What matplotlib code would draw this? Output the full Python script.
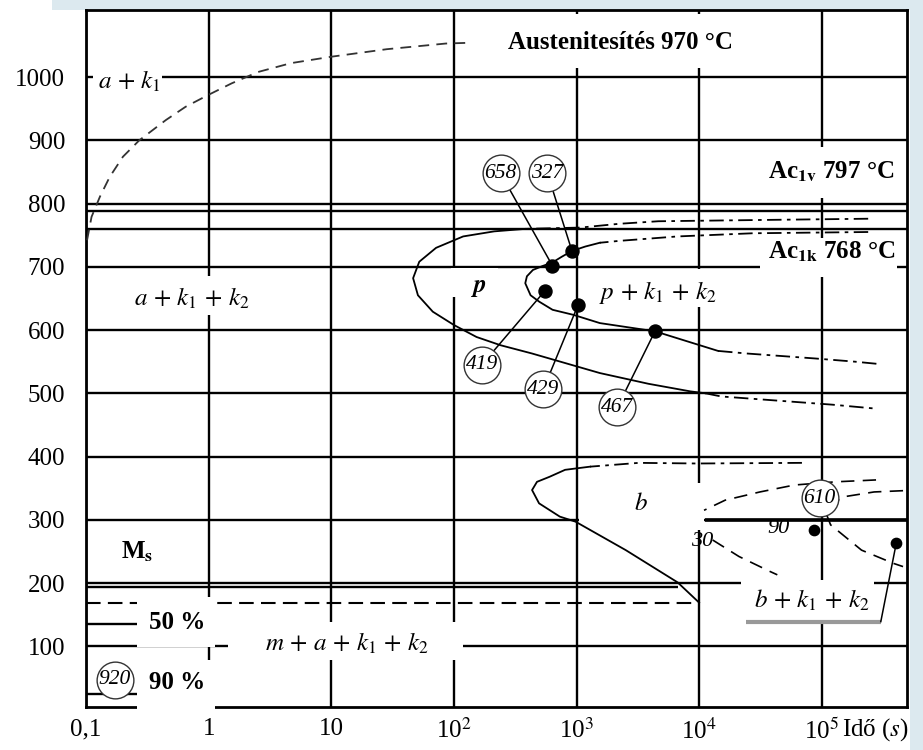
import matplotlib.pyplot as plt
from matplotlib.patches import Rectangle
from matplotlib.ticker import NullLocator

plt.rcParams['font.family'] = ['Liberation Serif', 'DejaVu Serif']
plt.rcParams['mathtext.fontset'] = 'stix'

# --- data: time in s, temperature in °C ---
aust_t = [0.102, 0.111, 0.130, 0.156, 0.200, 0.272, 0.448, 0.649, 1.0, 1.54,
          2.53, 4.70, 9.9, 28.3, 86.1, 126]
aust_T = [742, 779, 811, 842, 874, 900, 932, 953, 972, 990,
          1008, 1022, 1032, 1044, 1053, 1054]

# pearlite start (outer C)
ps_up_t = [239000, 31300, 4645, 2234, 1076, 385]
ps_up_T = [776, 774, 772, 768, 762, 760]
ps_mid_t = [385, 213, 119, 71.6, 52.2, 46.5, 50.9, 67.3, 100, 153, 240, 432,
            1549, 3864, 8492, 11250]
ps_mid_T = [760, 756, 748, 730, 708, 682, 655, 629, 608, 589, 576, 563,
            532, 515, 503, 500]
ps_low_t = [11250, 15100, 46500, 122000, 267000]
ps_low_T = [500, 495, 488, 482, 476]

# pearlite end (inner C)
pe_up_t = [239000, 27300, 6680, 2234, 1549]
pe_up_T = [755, 753, 748, 741, 738]
pe_mid_t = [1549, 1178, 918, 760, 638, 525, 441, 394, 382, 422, 495, 638,
            944, 1549, 4365, 14260]
pe_mid_T = [738, 732, 725, 716, 707, 701, 695, 685, 674, 655, 645, 632,
            624, 611, 598, 567]
pe_low_t = [14260, 24100, 88900, 186000, 303000]
pe_low_T = [567, 563, 555, 550, 546]

# bainite start
bs_up_t = [68900, 9640, 3220, 1291]
bs_up_T = [390, 389, 390, 384]
bs_mid_t = [1291, 807, 603, 476, 434, 495, 731, 982, 2523, 6680, 10000]
bs_mid_T = [384, 379, 368, 360, 347, 326, 305, 297, 252, 201, 169]

# bainite 30 % and 90 %
b30_up_t = [277000, 129000, 60000, 31300, 16300, 10960]
b30_up_T = [363, 360, 355, 344, 331, 315]
b30_low_t = [12900, 21100, 38100, 43400]
b30_low_T = [268, 242, 218, 213]
b90_t = [460000, 267000, 147000, 106000, 118000, 211000, 385000, 460000]
b90_T = [346, 344, 336, 315, 292, 252, 231, 226]

# critical temperatures
ac1v_T = 788
ac1k_T = 759
ms_T = 193
ms_end_t = 6680
m50_dash_T = 169
m50_T = 136
m90_T = 25
short_end_t = 0.262

# hardness values
hv_labels = ['658', '327', '419', '429', '467']
hv_circle_t = [240, 579, 169, 536, 2155]
hv_circle_T = [848, 848, 545, 506, 478]
hv_dot_t = [635, 918, 552, 1031, 4365]
hv_dot_T = [702, 725, 662, 640, 598]
hv610_circle = (96200, 334)
hv610_dot = (87100, 284)
hv920_circle = (0.171, 47)
bk_dot = (405000, 263)
bk_line_t = [24200, 303000]
bk_line_T = 139

xticks = [0.1, 1, 10, 1e2, 1e3, 1e4, 1e5]
xlabels = ['0,1', '1', '10', '10$^2$', '10$^3$', '10$^4$', '10$^5$']
yticks = [100, 200, 300, 400, 500, 600, 700, 800, 900, 1000]

# white boxes behind labels (t0, t1, T0, T1)
masks = [(0.114, 0.418, 976, 1017), (227, 21100, 1014, 1100),
         (31300, 413000, 809, 889), (31300, 413000, 684, 745),
         (94.6, 227, 652, 698), (1416, 15700, 636, 696),
         (0.226, 2.44, 624, 685), (1038, 11040, 284, 358),
         (21980, 267000, 141, 205), (0.262, 1.12, 99, 178),
         (0.262, 1.12, -5, 78), (1.45, 119, 78, 138)]

fig = plt.figure(figsize=(9.23, 7.5), dpi=100)
fig.add_artist(Rectangle((52 / 923, 740 / 750), 1, 0.02, transform=fig.transFigure,
                         color='#dce9ef', lw=0, zorder=0))
fig.add_artist(Rectangle((910 / 923, 0), 0.02, 1, transform=fig.transFigure,
                         color='#dce9ef', lw=0, zorder=0))
ax = fig.add_axes([86 / 923, 43 / 750, 821 / 923, 697 / 750])
ax.set_xscale('log')
ax.set_xlim(0.1, 10 ** 5.695)
ax.set_ylim(4, 1106)
ax.set_xticks(xticks)
ax.set_xticklabels(xlabels)
ax.xaxis.set_minor_locator(NullLocator())
ax.set_yticks(yticks)
ax.tick_params(axis='both', length=0, labelsize=18)
ax.tick_params(axis='x', pad=8)
ax.tick_params(axis='y', pad=15)
ax.grid(True, color='black', lw=1.7)
ax.set_axisbelow(True)
for s in ax.spines.values():
    s.set_linewidth(2)

xmin, xmax = ax.get_xlim()
lk = dict(color='black', lw=1.7, zorder=1)
ax.hlines([ac1v_T, ac1k_T], xmin, xmax, **lk)
ax.hlines(ms_T, xmin, ms_end_t, **lk)
ax.hlines(300, 11250, xmax, color='black', lw=2.6, zorder=1)
ax.hlines([m50_T, m90_T], xmin, short_end_t, **lk)
ax.hlines(m50_dash_T, xmin, 1e4, color='black', lw=1.5, ls=(0, (7, 3.5)), zorder=1)

for t0, t1, T0, T1 in masks:
    ax.fill([t0, t1, t1, t0], [T0, T0, T1, T1], color='white', lw=0,
            zorder=2.7, clip_on=False)

dash = (0, (6, 4))
dashdot = (0, (8, 3, 2, 3))
ax.plot(aust_t, aust_T, color='#333333', lw=1.3, ls=dash, zorder=3)
ax.plot(ps_up_t, ps_up_T, color='black', lw=1.3, ls=dashdot, zorder=3)
ax.plot(ps_mid_t, ps_mid_T, color='black', lw=1.3, zorder=3)
ax.plot(ps_low_t, ps_low_T, color='black', lw=1.3, ls=dashdot, zorder=3)
ax.plot(pe_up_t, pe_up_T, color='black', lw=1.3, ls=dashdot, zorder=3)
ax.plot(pe_mid_t, pe_mid_T, color='black', lw=1.3, zorder=3)
ax.plot(pe_low_t, pe_low_T, color='black', lw=1.3, ls=dashdot, zorder=3)
ax.plot(bs_up_t, bs_up_T, color='black', lw=1.3, ls=dashdot, zorder=3)
ax.plot(bs_mid_t, bs_mid_T, color='black', lw=1.3, zorder=3)
ax.plot(b30_up_t, b30_up_T, color='black', lw=1.2, ls=(0, (8, 5)), zorder=3)
ax.plot(b30_low_t, b30_low_T, color='black', lw=1.2, ls=(0, (8, 5)), zorder=3)
ax.plot(b90_t, b90_T, color='black', lw=1.2, ls=(0, (8, 5)), zorder=3)

# hardness circles with leaders
for lab, ct, cT, dt, dT in zip(hv_labels, hv_circle_t, hv_circle_T, hv_dot_t, hv_dot_T):
    ax.plot([ct, dt], [cT, dT], color='black', lw=1.1, zorder=3)
ax.scatter(hv_dot_t, hv_dot_T, s=88, color='black', zorder=4)
ax.scatter([hv610_dot[0], bk_dot[0]], [hv610_dot[1], bk_dot[1]], s=55, color='black', zorder=4)
ct_all = hv_circle_t + [hv610_circle[0], hv920_circle[0]]
cT_all = hv_circle_T + [hv610_circle[1], hv920_circle[1]]
lab_all = hv_labels + ['610', '920']
ax.scatter(ct_all, cT_all, s=700, facecolor='white', edgecolor='#333333', lw=1, zorder=5)
for lab, ct, cT in zip(lab_all, ct_all, cT_all):
    ax.text(ct, cT, lab, ha='center', va='center', fontsize=15.5, style='italic', zorder=6)

ax.plot(bk_line_t, [bk_line_T, bk_line_T], color='#999999', lw=3, zorder=3,
        solid_capstyle='butt')
ax.plot([bk_line_t[1], bk_dot[0]], [bk_line_T, bk_dot[1]], color='black', lw=1.1, zorder=3)

# labels
pl = r'\,+\,'
tk = dict(ha='center', va='center', fontsize=18, zorder=6)
ax.text(0.226, 993, r'$a' + pl + r'k_{\mathit{1}}$', **tk)
ax.text(0.73, 650, r'$a' + pl + r'k_{\mathit{1}}' + pl + r'k_{\mathit{2}}$', **tk)
ax.text(0.262, 249, r'M$_\mathbf{s}$', fontweight='bold', **tk)
ax.text(0.552, 138, '50 %', fontweight='bold', **tk)
ax.text(0.552, 42, '90 %', fontweight='bold', **tk)
ax.text(13.5, 104, r'$m' + pl + 'a' + pl + r'k_{\mathit{1}}' + pl + r'k_{\mathit{2}}$', **tk)
ax.text(2275, 1055, 'Austenitesítés 970 °C', fontweight='bold', **tk)
ax.text(120000, 850, r'Ac$_{\mathbf{1v}}$ 797 °C', fontweight='bold', **tk)
ax.text(120000, 723, r'Ac$_{\mathbf{1k}}$ 768 °C', fontweight='bold', **tk)
ax.text(157, 667, r'$\mathbfit{p}$', **tk)
ax.text(4640, 659, r'$p' + pl + r'k_{\mathit{1}}' + pl + r'k_{\mathit{2}}$', **tk)
ax.text(3340, 325, r'$b$', **tk)
ax.text(82200, 172, r'$b' + pl + r'k_{\mathit{1}}' + pl + r'k_{\mathit{2}}$', **tk)
ax.text(10600, 266, '30', ha='center', va='center', fontsize=16, style='italic', zorder=6)
ax.text(44700, 287, '90', ha='center', va='center', fontsize=16, style='italic', zorder=6)
ax.text(146600, -0.032, 'Idő ($s$)', transform=ax.get_xaxis_transform(),
        ha='left', va='center', fontsize=18)

fig.savefig('out.png', dpi=100)
